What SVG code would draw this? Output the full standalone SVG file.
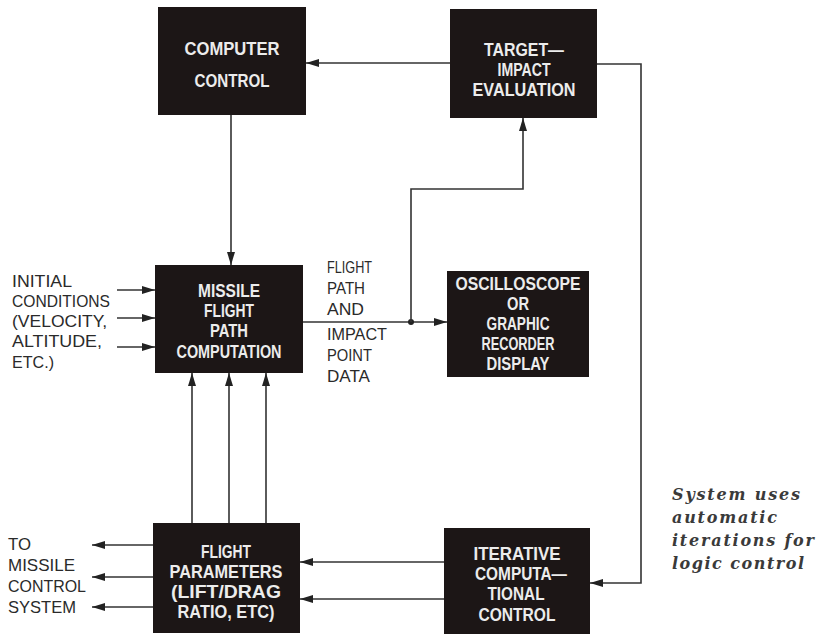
<svg xmlns="http://www.w3.org/2000/svg" width="825" height="637" viewBox="0 0 825 637">
<style>
.box{fill:#1c1616}
.bt{font-family:"Liberation Sans",Arial,sans-serif;font-weight:bold;font-size:19px;fill:#ececec;text-anchor:middle}
.lt{font-family:"Liberation Sans",Arial,sans-serif;font-size:17px;fill:#2a2a2a}
.cap{font-family:"DejaVu Serif",serif;font-style:italic;font-weight:bold;font-size:16px;fill:#3a3a3a}
.ln{fill:none;stroke:#333;stroke-width:1.6}
</style>
<defs>
<marker id="ah" markerUnits="userSpaceOnUse" markerWidth="14" markerHeight="10" refX="13" refY="5" orient="auto">
<path d="M0,1 L13,5 L0,9 Z" fill="#222"/>
</marker>
</defs>
<rect width="825" height="637" fill="#ffffff"/>
<g id="connectors">
<line class="ln" x1="450" y1="63" x2="306" y2="63" marker-end="url(#ah)"/>
<line class="ln" x1="231" y1="115" x2="231" y2="265" marker-end="url(#ah)"/>
<line class="ln" x1="117" y1="290" x2="155" y2="290" marker-end="url(#ah)"/>
<line class="ln" x1="117" y1="318" x2="155" y2="318" marker-end="url(#ah)"/>
<line class="ln" x1="117" y1="347" x2="155" y2="347" marker-end="url(#ah)"/>
<line class="ln" x1="303" y1="322" x2="447" y2="322" marker-end="url(#ah)"/>
<circle cx="411" cy="322" r="3" fill="#222"/>
<path class="ln" d="M411,322 V189 H523 V118" marker-end="url(#ah)"/>
<path class="ln" d="M597,64 H641 V583 H590" marker-end="url(#ah)"/>
<line class="ln" x1="444" y1="562" x2="300" y2="562" marker-end="url(#ah)"/>
<line class="ln" x1="444" y1="599" x2="300" y2="599" marker-end="url(#ah)"/>
<line class="ln" x1="192" y1="523" x2="192" y2="373" marker-end="url(#ah)"/>
<line class="ln" x1="229" y1="523" x2="229" y2="373" marker-end="url(#ah)"/>
<line class="ln" x1="266" y1="523" x2="266" y2="373" marker-end="url(#ah)"/>
<line class="ln" x1="153" y1="545" x2="92" y2="545" marker-end="url(#ah)"/>
<line class="ln" x1="153" y1="577" x2="92" y2="577" marker-end="url(#ah)"/>
<line class="ln" x1="153" y1="607" x2="92" y2="607" marker-end="url(#ah)"/>
</g>
<g id="computer-control">
<rect class="box" x="158" y="7" width="148" height="108"/>
<text class="bt" x="232" y="55" font-size="20" textLength="95" lengthAdjust="spacingAndGlyphs">COMPUTER</text>
<text class="bt" x="232" y="87" font-size="20" textLength="75" lengthAdjust="spacingAndGlyphs">CONTROL</text>
</g>
<g id="target-impact">
<rect class="box" x="450" y="9" width="147" height="109"/>
<text class="bt" x="524" y="56" textLength="80" lengthAdjust="spacingAndGlyphs">TARGET—</text>
<text class="bt" x="524" y="76" textLength="53" lengthAdjust="spacingAndGlyphs">IMPACT</text>
<text class="bt" x="524" y="96" textLength="103" lengthAdjust="spacingAndGlyphs">EVALUATION</text>
</g>
<g id="missile-flight">
<rect class="box" x="155" y="265" width="148" height="108"/>
<text class="bt" x="229" y="297" textLength="62" lengthAdjust="spacingAndGlyphs">MISSILE</text>
<text class="bt" x="229" y="317" textLength="50" lengthAdjust="spacingAndGlyphs">FLIGHT</text>
<text class="bt" x="229" y="337" textLength="38" lengthAdjust="spacingAndGlyphs">PATH</text>
<text class="bt" x="229" y="358" textLength="105" lengthAdjust="spacingAndGlyphs">COMPUTATION</text>
</g>
<g id="oscilloscope">
<rect class="box" x="447" y="271" width="142" height="106"/>
<text class="bt" x="518" y="290" textLength="125" lengthAdjust="spacingAndGlyphs">OSCILLOSCOPE</text>
<text class="bt" x="518" y="310" textLength="22" lengthAdjust="spacingAndGlyphs">OR</text>
<text class="bt" x="518" y="330" textLength="63" lengthAdjust="spacingAndGlyphs">GRAPHIC</text>
<text class="bt" x="518" y="350" textLength="73" lengthAdjust="spacingAndGlyphs">RECORDER</text>
<text class="bt" x="518" y="370" textLength="63" lengthAdjust="spacingAndGlyphs">DISPLAY</text>
</g>
<g id="flight-parameters">
<rect class="box" x="153" y="523" width="147" height="110"/>
<text class="bt" x="226" y="558" textLength="50" lengthAdjust="spacingAndGlyphs">FLIGHT</text>
<text class="bt" x="226" y="578" textLength="113" lengthAdjust="spacingAndGlyphs">PARAMETERS</text>
<text class="bt" x="226" y="598" textLength="110" lengthAdjust="spacingAndGlyphs">(LIFT/DRAG</text>
<text class="bt" x="226" y="618" textLength="97" lengthAdjust="spacingAndGlyphs">RATIO, ETC)</text>
</g>
<g id="iterative">
<rect class="box" x="444" y="528" width="146" height="106"/>
<text class="bt" x="517" y="560" textLength="87" lengthAdjust="spacingAndGlyphs">ITERATIVE</text>
<text class="bt" x="521" y="580" textLength="92" lengthAdjust="spacingAndGlyphs">COMPUTA—</text>
<text class="bt" x="516" y="600" textLength="57" lengthAdjust="spacingAndGlyphs">TIONAL</text>
<text class="bt" x="517" y="621" textLength="77" lengthAdjust="spacingAndGlyphs">CONTROL</text>
</g>
<g id="labels">
<text class="lt" x="12" y="287" textLength="60" lengthAdjust="spacingAndGlyphs">INITIAL</text>
<text class="lt" x="12" y="307" textLength="98" lengthAdjust="spacingAndGlyphs">CONDITIONS</text>
<text class="lt" x="12" y="327" textLength="95" lengthAdjust="spacingAndGlyphs">(VELOCITY,</text>
<text class="lt" x="12" y="347" textLength="90" lengthAdjust="spacingAndGlyphs">ALTITUDE,</text>
<text class="lt" x="12" y="368" textLength="42" lengthAdjust="spacingAndGlyphs">ETC.)</text>
<text class="lt" x="327" y="273" textLength="45" lengthAdjust="spacingAndGlyphs">FLIGHT</text>
<text class="lt" x="327" y="294" textLength="38" lengthAdjust="spacingAndGlyphs">PATH</text>
<text class="lt" x="327" y="315" textLength="37" lengthAdjust="spacingAndGlyphs">AND</text>
<text class="lt" x="327" y="340" textLength="60" lengthAdjust="spacingAndGlyphs">IMPACT</text>
<text class="lt" x="327" y="361" textLength="45" lengthAdjust="spacingAndGlyphs">POINT</text>
<text class="lt" x="327" y="382" textLength="43" lengthAdjust="spacingAndGlyphs">DATA</text>
<text class="lt" x="8" y="550" textLength="23" lengthAdjust="spacingAndGlyphs">TO</text>
<text class="lt" x="8" y="571" textLength="67" lengthAdjust="spacingAndGlyphs">MISSILE</text>
<text class="lt" x="8" y="592" textLength="78" lengthAdjust="spacingAndGlyphs">CONTROL</text>
<text class="lt" x="8" y="613" textLength="68" lengthAdjust="spacingAndGlyphs">SYSTEM</text>
<text class="cap" x="672" y="500" textLength="128" lengthAdjust="spacing">System uses</text>
<text class="cap" x="672" y="523" textLength="105" lengthAdjust="spacing">automatic</text>
<text class="cap" x="672" y="546" textLength="142" lengthAdjust="spacing">iterations for</text>
<text class="cap" x="672" y="569" textLength="132" lengthAdjust="spacing">logic control</text>
</g>
</svg>
